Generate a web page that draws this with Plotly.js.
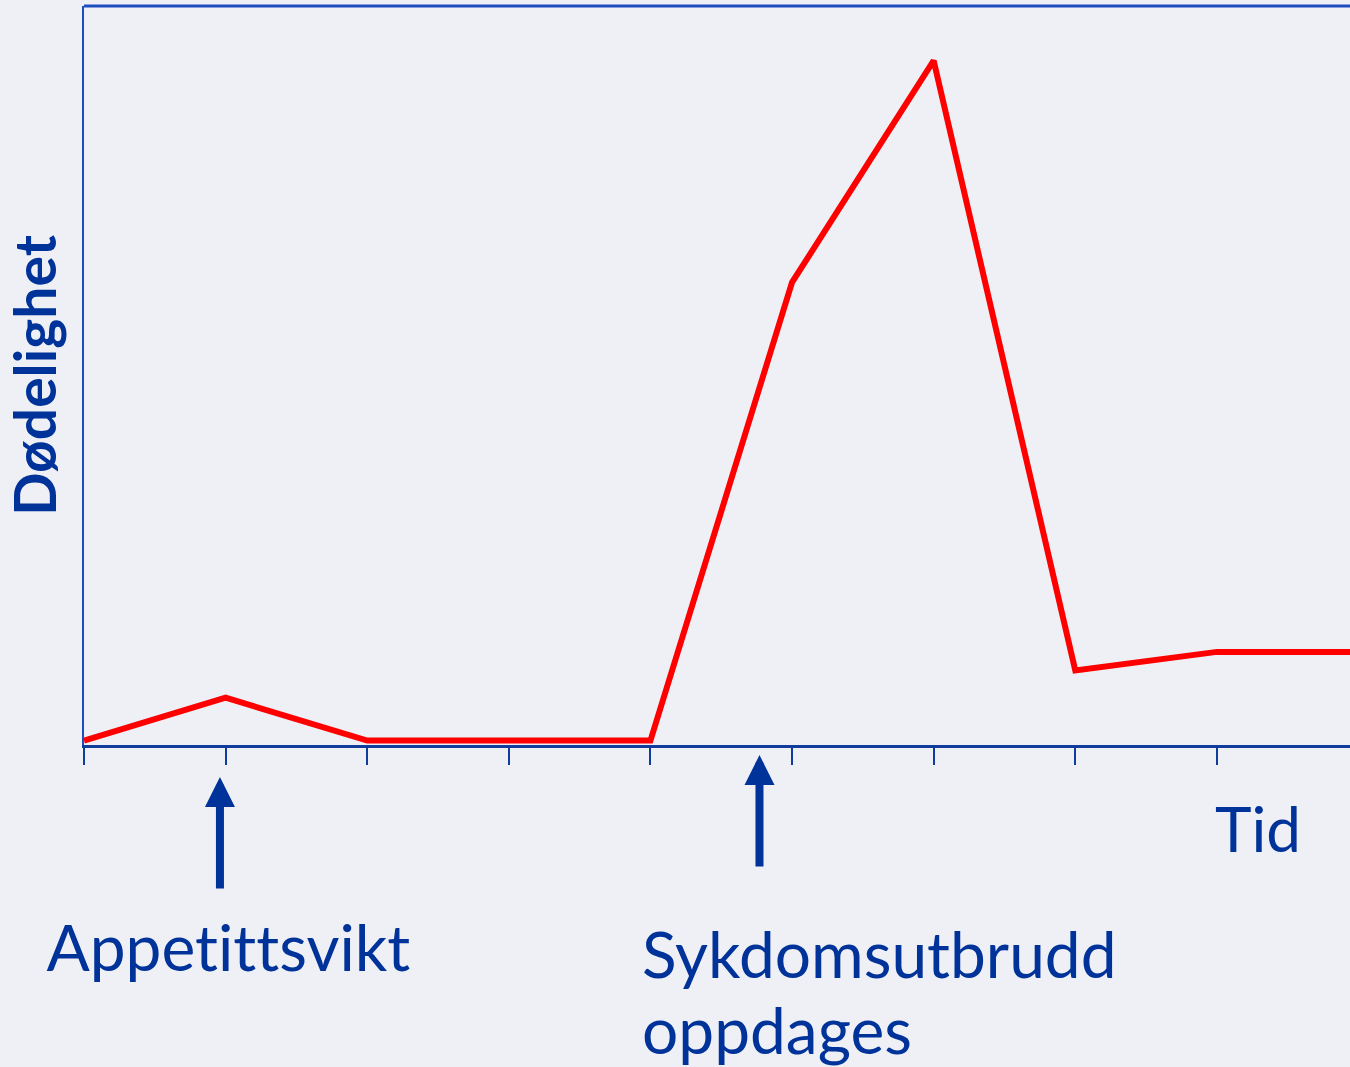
<!DOCTYPE html>
<html>
<head>
<meta charset="utf-8">
<script src="https://cdn.plot.ly/plotly-3.0.1.min.js"></script>
<style>html,body{margin:0;padding:0;background:#eff0f6;}#chart{width:1350px;height:1067px;}#chart text{font-variant-ligatures:none;font-feature-settings:"liga" 0;}</style>
</head>
<body>
<div id="chart"></div>
<script>
// Data
const timePoints = [0, 1, 2, 3, 4, 5, 6, 7, 8, 9];
const mortality = [0, 5.8, 0, 0, 0, 62, 92, 9.5, 12, 12];
const tickPositions = [0, 1, 2, 3, 4, 5, 6, 7, 8, 9];
const yTitle = 'Dødelighet';
const xLabel = 'Tid';
const eventPositions = [0.96, 4.77];
const eventLabels = ['Appetittsvikt', 'Sykdomsutbrudd', 'oppdages'];

const textColor = '#003399';
const font = 'Lato, "Open Sans", sans-serif';

const W = 1350, H = 1067, ml = 84, mt = 6, mb = 322, mr = 0;
const pw = W - ml - mr, ph = H - mt - mb;
const px = v => (v - ml) / pw;
const py = v => (H - mb - v) / ph;

const trace = {
  x: timePoints, y: mortality, type: 'scatter', mode: 'lines',
  line: {color: '#ff0000', width: 6}, hoverinfo: 'skip', cliponaxis: true
};

const annotations = [
  // arrows
  {x: eventPositions[0], y: py(777), xref: 'x', yref: 'paper', text: '', showarrow: true,
   arrowhead: 2, arrowsize: 0.75, arrowwidth: 8, arrowcolor: textColor, ax: 0, ay: 113},
  {x: eventPositions[1], y: py(755), xref: 'x', yref: 'paper', text: '', showarrow: true,
   arrowhead: 2, arrowsize: 0.75, arrowwidth: 8, arrowcolor: textColor, ax: 0, ay: 113},
  // labels
  {x: px(45), y: py(946), xref: 'paper', yref: 'paper', text: eventLabels[0], showarrow: false,
   xanchor: 'left', yanchor: 'middle', font: {family: font, size: 64, color: textColor}},
  {x: px(640), y: py(953), xref: 'paper', yref: 'paper', text: eventLabels[1], showarrow: false,
   xanchor: 'left', yanchor: 'middle', font: {family: font, size: 64, color: textColor}},
  {x: px(640), y: py(1029), xref: 'paper', yref: 'paper', text: eventLabels[2], showarrow: false,
   xanchor: 'left', yanchor: 'middle', font: {family: font, size: 64, color: textColor}},
  {x: px(1213), y: py(828), xref: 'paper', yref: 'paper', text: xLabel, showarrow: false,
   xanchor: 'left', yanchor: 'middle', font: {family: font, size: 62, color: textColor}}
];

const layout = {
  width: W, height: H,
  margin: {l: ml, r: mr, t: mt, b: mb, pad: 0},
  paper_bgcolor: '#eff0f6', plot_bgcolor: '#eff0f6',
  showlegend: false,
  xaxis: {
    range: [0, 8.94], tickvals: tickPositions, showticklabels: false,
    ticks: 'outside', ticklen: 17, tickwidth: 2, tickcolor: '#103c9c',
    showline: true, linecolor: '#103c9c', linewidth: 3,
    showgrid: false, zeroline: false, fixedrange: true
  },
  yaxis: {
    range: [-0.6, 99.4], showticklabels: false, ticks: '',
    showline: true, linecolor: '#1c4cc0', linewidth: 2,
    showgrid: false, zeroline: false, fixedrange: true,
    title: {text: '<b>' + yTitle + '</b>', standoff: 18, font: {family: font, size: 57, color: textColor}}
  },
  shapes: [
    {type: 'line', xref: 'paper', yref: 'paper', x0: 0, x1: 1, y0: 1, y1: 1,
     line: {color: '#1c4cc0', width: 3}}
  ],
  annotations: annotations
};

Plotly.newPlot('chart', [trace], layout, {displayModeBar: false, staticPlot: true});
</script>
</body>
</html>
